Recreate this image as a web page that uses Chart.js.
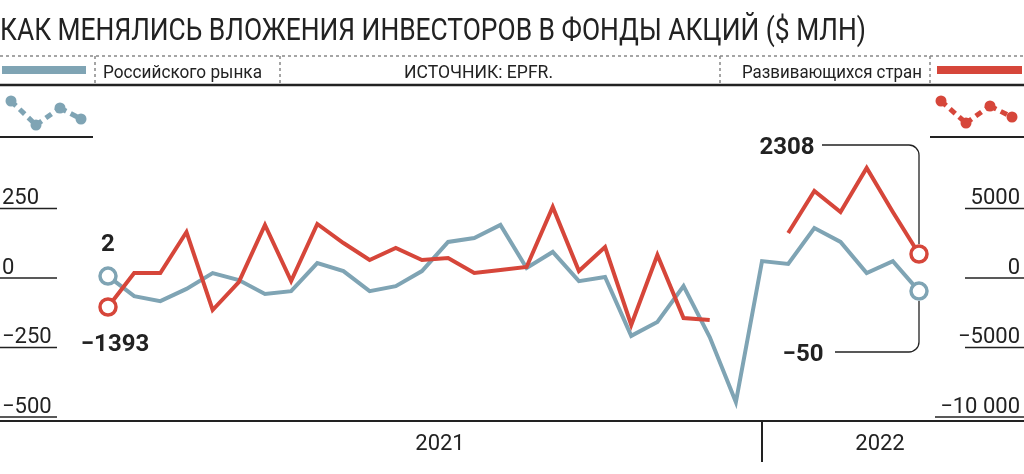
<!DOCTYPE html>
<html><head><meta charset="utf-8">
<script src="https://cdn.jsdelivr.net/npm/chart.js@4"></script>
<style>html,body{margin:0;padding:0;background:#fff}#w{width:1024px;height:474px;position:relative}</style>
</head><body><div id="w"><canvas id="c"></canvas></div>
<script>
const categories = Array.from({length:32},(_, i)=>'w'+(i+1));
const russia = [-40,-112,-130,-86,-29,-54,-104,-94,7,-22,-94,-76,-22,83,97,144,-11,47,-58,-43,-255,-205,-76,-259,-493,14,4,133,83,-29,14,-94];
const emerging = [-3022,-576,-576,2374,-3237,-1223,2878,-1151,2950,1583,360,1223,360,504,-576,-360,-144,4173,-432,1295,-4317,719,-3813,-3957,null,null,2302,5324,3813,6978,3813,791];
const leftTicks = [250,0,-250,-500];
const rightTicks = [5000,0,-5000,-10000];
const rightTickLabels = ['5000','0','−5000','−10 000'];
const leftTickLabels = ['250','0','−250','−500'];
const yearLabels = ['2021','2022'];
const BLUE='#7fa4b4', RED='#d6463a', INK='#222';
const FONT='"Liberation Sans Narrow","Roboto","Liberation Sans",sans-serif';

function txt(ctx,s,x,y,size,w,align,bold){
  ctx.save();ctx.font=(bold?'bold ':'')+size+'px '+FONT;
  const m=ctx.measureText(s).width;const k=w?w/m:1;
  ctx.translate(x,y);ctx.scale(k,1);ctx.textAlign=align||'left';ctx.textBaseline='alphabetic';
  ctx.fillStyle=INK;ctx.fillText(s,0,0);ctx.restore();
}
function line(ctx,x1,y1,x2,y2,col,w,dash){ctx.save();ctx.strokeStyle=col;ctx.lineWidth=w;ctx.setLineDash(dash||[]);ctx.beginPath();ctx.moveTo(x1,y1);ctx.lineTo(x2,y2);ctx.stroke();ctx.restore();}
function icon(ctx,pts,col){
  for(let i=0;i<pts.length-1;i++){line(ctx,pts[i][0],pts[i][1],pts[i+1][0],pts[i+1][1],col,5,[7,5]);}
  ctx.fillStyle=col;pts.forEach(p=>{ctx.beginPath();ctx.arc(p[0],p[1],5.5,0,7);ctx.fill();});
}
const deco={id:'deco',afterDraw(ch){
  const ctx=ch.ctx, yl=ch.scales.yl, yr=ch.scales.yr, x=ch.scales.x;
  txt(ctx,'КАК МЕНЯЛИСЬ ВЛОЖЕНИЯ ИНВЕСТОРОВ В ФОНДЫ АКЦИЙ ($ МЛН)',0,40,31,866);
  line(ctx,0,56,1024,56,'#888',1.5,[3,3]);
  [95,280,720,930].forEach(v=>line(ctx,v,56,v,84,'#888',1.5,[3,3]));
  line(ctx,0,85,1024,85,INK,2.5);
  line(ctx,2,70,86,70,BLUE,8);line(ctx,937,70,1022,70,RED,8);
  txt(ctx,'Российского рынка',103,78,18,159);
  txt(ctx,'ИСТОЧНИК: EPFR.',404,78,18,149);
  txt(ctx,'Развивающихся стран',742,78,18,180);
  icon(ctx,[[11,101],[36,125],[60,108],[81,119]],BLUE);
  icon(ctx,[[941,101],[966,123],[990,106],[1012,117]],RED);
  line(ctx,0,137,93,137,INK,2);line(ctx,930,137,1024,137,INK,2);
  leftTicks.forEach((v,i)=>{const p=yl.getPixelForValue(v);txt(ctx,leftTickLabels[i],2,p+9,22,null,'left');line(ctx,0,p+13,57,p+13,INK,1.5);});
  rightTicks.forEach((v,i)=>{const p=yr.getPixelForValue(v);txt(ctx,rightTickLabels[i],1020,p+9,22,null,'right');line(ctx,i==3?935:965,p+13,1024,p+13,INK,1.5);});
  line(ctx,0,421,1024,421,INK,2);line(ctx,762,421,762,462,INK,2);
  txt(ctx,yearLabels[0],440,450,22,null,'center');txt(ctx,yearLabels[1],880,450,22,null,'center');
  // annotations
  const xl=x.getPixelForValue(31);
  const rEnd=yr.getPixelForValue(emerging[31]), bEnd=yl.getPixelForValue(russia[31]);
  txt(ctx,'2',108,251,24,null,'center',true);
  txt(ctx,'−1393',115,351,24,null,'center',true);
  txt(ctx,'2308',787,154,24,null,'center',true);
  txt(ctx,'−50',803,361,24,null,'center',true);
  ctx.save();ctx.strokeStyle=INK;ctx.lineWidth=1.3;ctx.beginPath();
  ctx.moveTo(822,145);ctx.lineTo(909,145);ctx.arcTo(919,145,919,155,10);ctx.lineTo(xl,rEnd-10);
  ctx.moveTo(835,352);ctx.lineTo(909,352);ctx.arcTo(919,352,919,342,10);ctx.lineTo(xl,bEnd+10);
  ctx.stroke();ctx.restore();
}};
function radii(arr){return arr.map((v,i)=>(i===0||i===arr.length-1)?8:0);}
new Chart(document.getElementById('c'),{
  type:'line',
  data:{labels:categories,datasets:[
    {data:emerging,yAxisID:'yr',borderColor:RED,borderWidth:4,pointRadius:radii(emerging),pointBackgroundColor:'#fff',pointBorderColor:RED,pointBorderWidth:3.5,tension:0,spanGaps:false},
    {data:russia,yAxisID:'yl',borderColor:BLUE,borderWidth:4,pointRadius:radii(russia),pointBackgroundColor:'#fff',pointBorderColor:BLUE,pointBorderWidth:3.5,tension:0}
  ]},
  options:{responsive:true,maintainAspectRatio:false,animation:false,
    layout:{padding:{left:108,right:105,top:130,bottom:54}},
    plugins:{legend:{display:false},tooltip:{enabled:false}},
    scales:{
      x:{display:false,offset:false},
      yl:{display:false,position:'left',min:-557.6,max:485.6},
      yr:{display:false,position:'right',min:-11151,max:9712}
    }},
  plugins:[deco]
});
</script></body></html>
